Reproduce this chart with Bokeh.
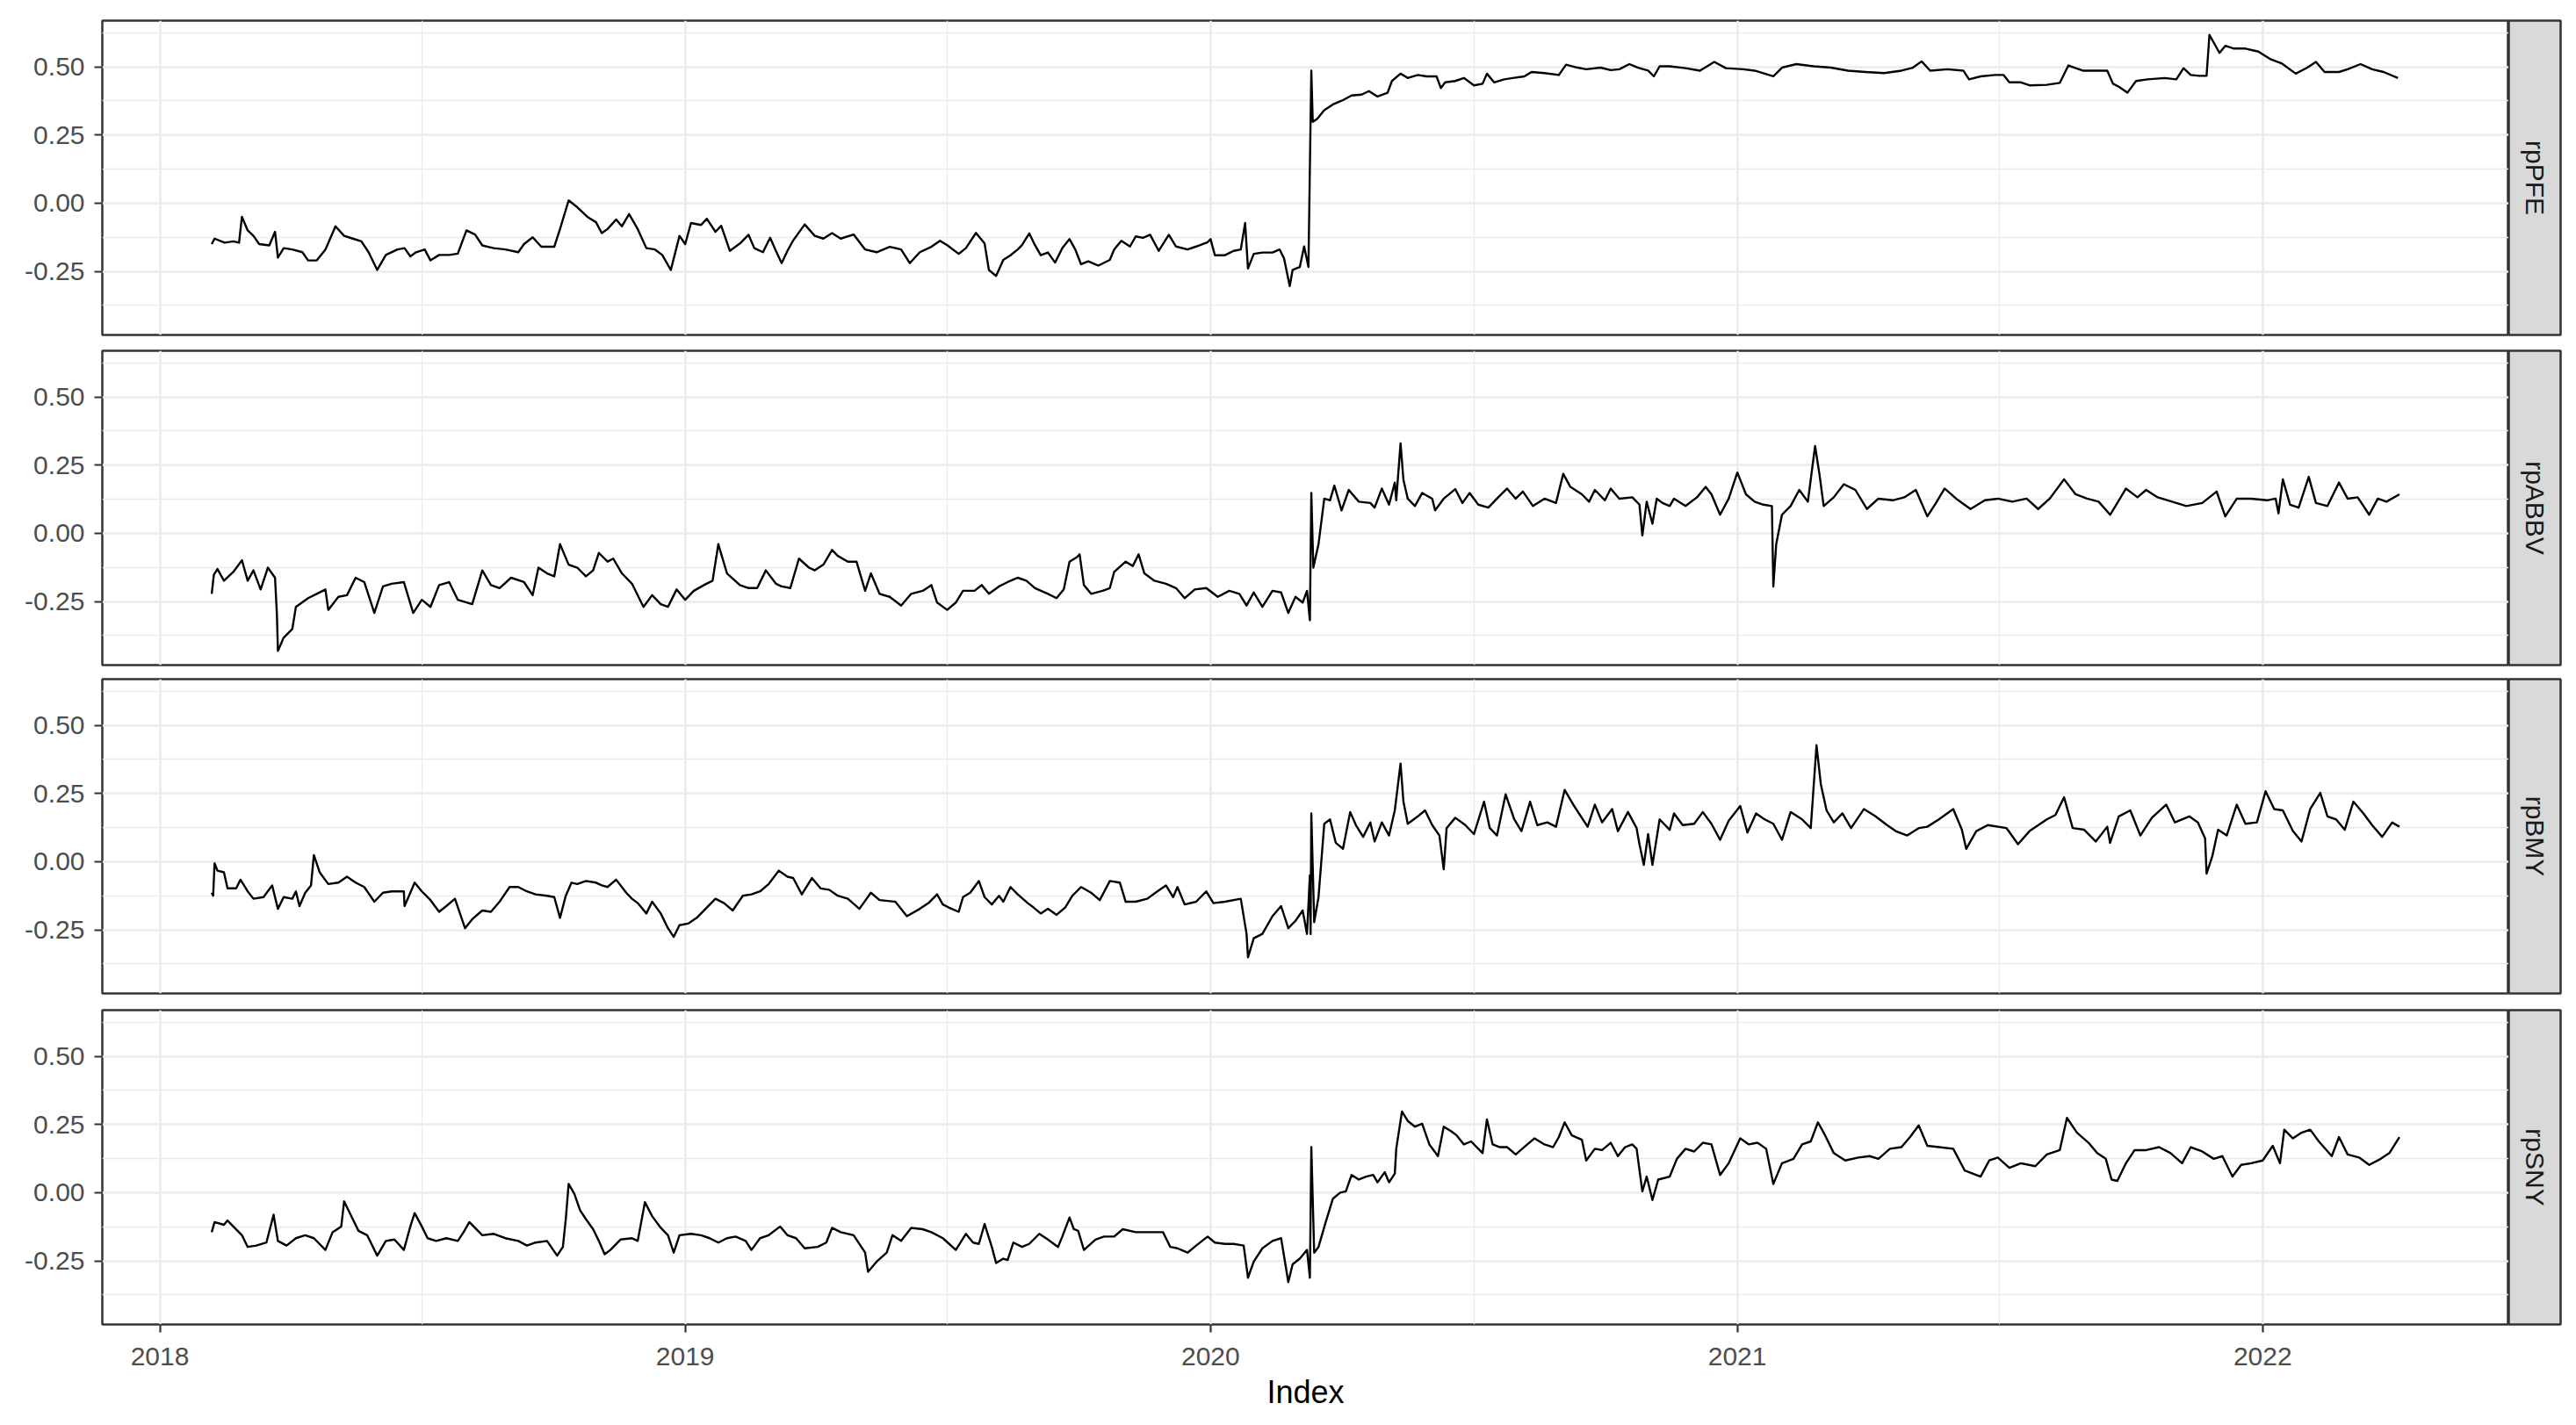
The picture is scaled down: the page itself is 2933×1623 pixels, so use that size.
import math
import pandas as pd
from bokeh.plotting import figure
from bokeh.layouts import column, row
from bokeh.models import (ColumnDataSource, Range1d, FixedTicker,
                          DatetimeTickFormatter, NumeralTickFormatter)
from bokeh.core.properties import value
from bokeh.embed import file_html
from bokeh.resources import INLINE

# ---------------- data ----------------
ORIGIN = "2018-01-01"          # day 0 of the day offsets below
series_names = ["rpPFE", "rpABBV", "rpBMY", "rpSNY"]
year_ticks = [2018, 2019, 2020, 2021, 2022]
y_tick_values = [-0.25, 0.0, 0.25, 0.5]
y_minor_values = [-0.375, -0.125, 0.125, 0.375, 0.625]

pfe_days = [36, 38, 45, 51, 55, 57, 61, 65, 69, 76, 80, 82, 86, 92, 99, 103, 109, 115, 122, 128,
            134, 140, 145, 151, 157, 165, 170, 174, 178, 184, 188, 194, 201, 207, 213, 219, 224, 228,
            232, 240, 249, 253, 259, 265, 274, 278, 284, 290, 297, 303, 307, 311, 317, 321, 326, 332,
            338, 344, 349, 355, 361, 365, 369, 376, 380, 386, 390, 396, 403, 409, 413, 419, 424, 428,
            432, 436, 440, 448, 455, 461, 467, 473, 482, 490, 498, 507, 515, 521, 528, 536,
            542, 547, 555, 560, 567, 573, 576, 581, 586, 591, 596, 599, 604, 608, 612, 617, 622, 627,
            632, 636, 640, 645, 652, 660, 663, 668, 674, 678, 683, 688, 694, 701, 706, 714, 720, 728,
            730, 733, 740, 746, 751, 754, 756, 760, 766, 773, 778, 781, 785, 787, 792, 795, 798, 799,
            800, 801, 804, 809, 815, 822, 828, 835, 840, 846, 853, 856, 862, 867, 874, 880, 887, 890,
            893, 900, 906, 913, 919, 922, 927, 934, 940, 948, 953, 962, 972, 977, 985, 991, 1001, 1008,
            1014, 1021, 1027, 1034, 1038, 1042, 1049,
            1060, 1070, 1080, 1088, 1100, 1108, 1121, 1127, 1137, 1149, 1161, 1173, 1185, 1198, 1210,
            1218, 1224, 1230, 1242, 1253, 1257, 1265, 1275, 1281, 1285, 1293, 1299, 1311, 1320, 1326,
            1336, 1353, 1357, 1361, 1367, 1373, 1381, 1393, 1401, 1406, 1411, 1417, 1422, 1424, 1431,
            1435, 1441, 1449, 1458, 1466, 1474, 1484, 1492, 1498, 1504, 1514, 1520, 1529, 1537, 1545, 1555]
pfe_vals = [-0.15, -0.13, -0.145, -0.14, -0.145, -0.05, -0.10, -0.12, -0.15, -0.155, -0.105, -0.20, -0.165,
            -0.17, -0.18, -0.21, -0.21, -0.17, -0.085, -0.12, -0.13, -0.14, -0.18, -0.245, -0.19, -0.17,
            -0.165, -0.195, -0.18, -0.17, -0.21, -0.19, -0.19, -0.185, -0.10, -0.115, -0.155, -0.16,
            -0.165, -0.17, -0.18, -0.15, -0.125, -0.16, -0.16, -0.095, 0.01, -0.015, -0.05, -0.07,
            -0.11, -0.095, -0.06, -0.085, -0.04, -0.095, -0.165, -0.17, -0.19, -0.245, -0.12, -0.15,
            -0.073, -0.08, -0.057, -0.105, -0.083, -0.175, -0.148, -0.116, -0.165, -0.18, -0.127,
            -0.175, -0.22, -0.175, -0.137, -0.078, -0.12, -0.13, -0.11, -0.13, -0.115, -0.17, -0.18,
            -0.16, -0.17, -0.22, -0.18, -0.16,
            -0.138, -0.154, -0.186, -0.165, -0.109, -0.148, -0.245, -0.267, -0.208, -0.191, -0.170,
            -0.154, -0.111, -0.154, -0.191, -0.181, -0.218, -0.165, -0.132, -0.170, -0.224, -0.213,
            -0.229, -0.208, -0.170, -0.138, -0.159, -0.122, -0.127, -0.116, -0.175, -0.116, -0.159,
            -0.170, -0.159, -0.143, -0.132, -0.191, -0.191, -0.175, -0.170, -0.073, -0.240, -0.186,
            -0.181, -0.181, -0.170, -0.202, -0.304, -0.245, -0.234, -0.159, -0.234, 0.13,
            0.486, 0.298, 0.309, 0.341, 0.362, 0.378, 0.395, 0.398, 0.411, 0.391, 0.405, 0.448, 0.475,
            0.459, 0.470, 0.465, 0.465, 0.422, 0.443, 0.448, 0.459, 0.432, 0.438, 0.475, 0.443, 0.454,
            0.459, 0.465, 0.481, 0.477, 0.470, 0.508, 0.497, 0.491, 0.497, 0.488, 0.491, 0.510, 0.497,
            0.486, 0.465, 0.502, 0.502,
            0.495, 0.486, 0.518, 0.495, 0.491, 0.486, 0.465, 0.497, 0.510, 0.502, 0.497, 0.486, 0.481,
            0.477, 0.486, 0.497, 0.520, 0.486, 0.491, 0.486, 0.454, 0.465, 0.470, 0.470, 0.443, 0.443,
            0.432, 0.434, 0.441, 0.505, 0.486, 0.486, 0.438, 0.427, 0.405, 0.448, 0.454, 0.459, 0.454,
            0.495, 0.470, 0.467, 0.467, 0.617, 0.551, 0.577, 0.567, 0.567, 0.556, 0.529, 0.513, 0.475,
            0.497, 0.518, 0.481, 0.481, 0.491, 0.510, 0.491, 0.481, 0.459]

abbv_days = [36, 37.5, 40, 44.5, 51, 57, 61, 65, 70, 75, 80, 81.3, 82, 86, 92, 94.5, 103, 109, 115, 117,
             124, 130, 136, 142, 149, 155, 161, 169.5, 176, 182, 188, 194, 201, 207, 217, 224, 230, 236,
             244, 253, 259, 263, 269, 274, 278, 284, 290, 296, 301, 305, 311, 315, 321, 328, 336, 342,
             348, 353, 359, 365, 371, 378, 384, 388, 394, 403, 409, 415, 421, 428, 432, 438, 444, 451,
             455, 461, 467, 471, 478, 484, 490, 494, 500, 507, 515, 522, 530, 536,
             540, 547, 553, 558, 566, 571, 576, 583, 589, 596, 602, 608, 617, 623, 628, 632, 637, 639,
             642, 647, 655, 660, 663, 671, 676, 680, 684, 691, 699, 706, 712, 719, 727, 735, 743, 750,
             755, 760, 766, 773, 779, 784, 789, 794, 797, 799, 800, 801.4, 805, 809, 813, 816, 821, 826,
             833, 841, 844, 849, 854, 858, 859, 862, 864, 867, 872, 877, 884, 886, 892, 900, 905, 910,
             916, 923, 929, 936, 942, 947, 954, 962, 970, 975, 980, 988, 993, 997, 1004, 1008, 1014,
             1023, 1028, 1030, 1033, 1037, 1040, 1044, 1049,
             1052, 1060, 1068, 1074, 1078, 1084, 1090, 1096, 1102, 1108, 1114, 1120, 1121, 1123, 1127,
             1133, 1139, 1145, 1150, 1153, 1156, 1163, 1170, 1178, 1186, 1194, 1204, 1212, 1220, 1228,
             1234, 1240, 1248, 1258, 1268, 1277, 1287, 1297, 1305, 1313, 1323, 1331, 1339, 1347, 1355,
             1360, 1366, 1374, 1380, 1388, 1398, 1408, 1419, 1429, 1435, 1443, 1453, 1464, 1470, 1472,
             1475, 1480, 1486, 1493, 1498, 1506, 1514, 1520, 1527, 1535, 1541, 1547, 1556]
abbv_vals = [-0.222, -0.152, -0.131, -0.174, -0.142, -0.099, -0.174, -0.136, -0.206, -0.126, -0.163,
             -0.297, -0.431, -0.383, -0.351, -0.270, -0.238, -0.222, -0.206, -0.281, -0.233, -0.227,
             -0.163, -0.179, -0.292, -0.195, -0.185, -0.179, -0.292, -0.244, -0.270, -0.190, -0.179,
             -0.244, -0.260, -0.136, -0.190, -0.201, -0.163, -0.179, -0.227, -0.126, -0.147, -0.158,
             -0.040, -0.115, -0.126, -0.158, -0.136, -0.072, -0.104, -0.093, -0.147, -0.185, -0.270,
             -0.227, -0.260, -0.270, -0.206, -0.244, -0.211, -0.190, -0.174, -0.040, -0.147, -0.190,
             -0.201, -0.201, -0.136, -0.185, -0.195, -0.201, -0.093, -0.126, -0.136, -0.115, -0.061,
             -0.083, -0.104, -0.104, -0.211, -0.147, -0.222, -0.233, -0.265, -0.222, -0.211, -0.190,
             -0.254, -0.281, -0.254, -0.211, -0.211, -0.190, -0.222, -0.195, -0.179, -0.163, -0.174,
             -0.201, -0.222, -0.238, -0.206, -0.104, -0.088, -0.077, -0.190, -0.222, -0.211, -0.201,
             -0.142, -0.104, -0.120, -0.077, -0.147, -0.174, -0.185, -0.201, -0.238, -0.206, -0.201,
             -0.233, -0.211, -0.222, -0.265, -0.217, -0.270, -0.211, -0.217, -0.292, -0.233, -0.254,
             -0.211, -0.319, 0.148, -0.126, -0.040, 0.127, 0.121, 0.175, 0.084, 0.159, 0.116, 0.111,
             0.094, 0.164, 0.105, 0.186, 0.121, 0.330, 0.196, 0.127, 0.100, 0.148, 0.127, 0.084, 0.127,
             0.162, 0.111, 0.148, 0.105, 0.094, 0.127, 0.164, 0.127, 0.153, 0.100, 0.127, 0.111, 0.218,
             0.170, 0.143, 0.116, 0.159, 0.121, 0.164, 0.127, 0.132, 0.105, -0.008, 0.116, 0.035, 0.127,
             0.111, 0.100,
             0.127, 0.100, 0.132, 0.170, 0.143, 0.068, 0.127, 0.223, 0.143, 0.116, 0.105, 0.100, -0.195,
             -0.040, 0.068, 0.100, 0.159, 0.116, 0.320, 0.218, 0.100, 0.132, 0.180, 0.159, 0.089, 0.127,
             0.121, 0.132, 0.159, 0.062, 0.111, 0.164, 0.127, 0.089, 0.121, 0.127, 0.116, 0.127, 0.089,
             0.127, 0.198, 0.143, 0.127, 0.116, 0.068, 0.111, 0.164, 0.132, 0.159, 0.132, 0.116, 0.100,
             0.111, 0.153, 0.062, 0.127, 0.127, 0.121, 0.127, 0.073, 0.198, 0.105, 0.094, 0.207, 0.111,
             0.100, 0.186, 0.127, 0.132, 0.068, 0.127, 0.116, 0.143]

bmy_days = [36, 37, 38, 40, 44.5, 47, 53, 56, 61, 65, 72, 78, 82, 86, 92, 94.5, 97, 101, 105, 107, 111,
            117, 124, 130, 136, 142, 149, 155, 161, 169.5, 170, 177, 182, 188, 194, 199, 205, 212, 217,
            224, 230, 236, 243, 249, 255, 261, 269, 274, 278, 282, 286, 290, 296, 303, 307, 311, 317,
            324, 328, 332, 338, 342, 348, 353, 357, 361, 367, 373, 380, 386, 392, 398, 405, 411, 417,
            423, 430, 436, 440, 446, 453, 459, 465, 471, 478, 486, 494, 500, 511, 519, 528, 534, 540,
            544, 548, 555, 558, 563, 569, 573, 578, 583, 586, 591, 596, 603, 607, 612, 617, 623, 629,
            634, 640, 647, 653, 660, 667, 671, 678, 686, 693, 699, 704, 707, 712, 720, 727, 732, 740,
            751, 755, 756, 760, 766, 773, 779, 784, 789, 794, 797, 799, 799.5, 800, 802, 805, 809, 813,
            817, 822, 827, 831, 836, 841, 844, 849, 854, 858, 862, 864, 867, 874, 879, 884, 889, 892,
            894, 900, 907, 913, 920, 924, 929, 935, 941, 946, 952, 957, 964, 970, 976, 982, 992, 997,
            1002, 1009, 1013, 1020, 1026, 1028, 1031, 1034, 1037, 1042, 1049,
            1052, 1058, 1066, 1072, 1078, 1084, 1090, 1098, 1103, 1109, 1115, 1121, 1127, 1133, 1141,
            1147, 1151, 1154, 1158, 1163, 1169, 1175, 1184, 1192, 1200, 1206, 1214, 1222, 1228, 1236,
            1246, 1252, 1255, 1262, 1270, 1283, 1291, 1299, 1311, 1317, 1323, 1329, 1337, 1345, 1353,
            1355, 1361, 1369, 1376, 1384, 1394, 1400, 1410, 1416, 1421, 1422, 1426, 1430, 1436, 1443,
            1449, 1457, 1463, 1469, 1475, 1482, 1488, 1494, 1501, 1506, 1512, 1518, 1524, 1531, 1537,
            1544, 1551, 1556]
bmy_vals = [-0.114, -0.125, -0.006, -0.033, -0.039, -0.098, -0.098, -0.066, -0.109, -0.136, -0.130,
            -0.087, -0.173, -0.130, -0.136, -0.109, -0.163, -0.114, -0.087, 0.024, -0.039, -0.082,
            -0.077, -0.055, -0.077, -0.093, -0.147, -0.114, -0.109, -0.109, -0.163, -0.077, -0.109,
            -0.141, -0.184, -0.163, -0.136, -0.244, -0.211, -0.179, -0.184, -0.147, -0.093, -0.093,
            -0.109, -0.120, -0.125, -0.130, -0.206, -0.125, -0.077, -0.082, -0.071, -0.077, -0.087,
            -0.093, -0.066, -0.114, -0.136, -0.152, -0.190, -0.147, -0.190, -0.244, -0.276, -0.233,
            -0.227, -0.206, -0.168, -0.136, -0.152, -0.179, -0.125, -0.120, -0.109, -0.082, -0.033,
            -0.055, -0.060, -0.120, -0.060, -0.098, -0.103, -0.125, -0.136, -0.173, -0.114, -0.141,
            -0.147, -0.200, -0.173, -0.152, -0.120,
            -0.157, -0.168, -0.184, -0.130, -0.114, -0.071, -0.130, -0.157, -0.125, -0.147, -0.093,
            -0.120, -0.152, -0.168, -0.190, -0.173, -0.195, -0.168, -0.125, -0.093, -0.114, -0.141,
            -0.071, -0.077, -0.147, -0.147, -0.136, -0.109, -0.087, -0.130, -0.093, -0.157, -0.147,
            -0.109, -0.152, -0.147, -0.136, -0.265, -0.351, -0.281, -0.265, -0.200, -0.163, -0.244,
            -0.217, -0.179, -0.265, -0.050, -0.265, 0.177, -0.222, -0.130, 0.139, 0.155, 0.069, 0.047,
            0.182, 0.134, 0.091, 0.144, 0.074, 0.144, 0.096, 0.188, 0.360, 0.220, 0.139, 0.166, 0.188,
            0.134, 0.096, -0.028, 0.123, 0.161, 0.134, 0.101, 0.220, 0.123, 0.096, 0.247, 0.155, 0.112,
            0.220, 0.134, 0.144, 0.128, 0.263, 0.209, 0.128, 0.209, 0.144, 0.193, 0.112, 0.182, 0.123,
            0.064, -0.012, 0.101, -0.012, 0.155, 0.117,
            0.177, 0.134, 0.139, 0.182, 0.139, 0.080, 0.150, 0.204, 0.107, 0.177, 0.155, 0.139, 0.080,
            0.182, 0.155, 0.123, 0.427, 0.284, 0.188, 0.144, 0.177, 0.123, 0.193, 0.166, 0.134, 0.112,
            0.096, 0.123, 0.128, 0.155, 0.193, 0.117, 0.047, 0.112, 0.134, 0.123, 0.064, 0.112, 0.155,
            0.171, 0.236, 0.123, 0.117, 0.074, 0.128, 0.069, 0.166, 0.188, 0.096, 0.161, 0.209, 0.144,
            0.166, 0.144, 0.085, -0.044, 0.020, 0.117, 0.096, 0.209, 0.139, 0.144, 0.258, 0.193, 0.188,
            0.112, 0.074, 0.193, 0.252, 0.166, 0.155, 0.117, 0.220, 0.177, 0.134, 0.091, 0.144, 0.128]

sny_days = [36, 38, 44.5, 47, 51, 57, 61, 67, 74, 79, 82, 88, 94.5, 101, 107, 115, 120, 126, 128, 134,
            138, 144, 151, 157, 163, 169.5, 174, 177, 182, 186, 192, 199, 207, 211, 215, 224, 232, 240,
            249, 255, 261, 269, 276, 280, 282, 284, 288, 292, 296, 301, 305, 309, 313, 320, 328, 332,
            337, 342, 348, 353, 357, 361, 369, 376, 382, 388, 394, 400, 407, 411, 417, 423, 431, 436,
            442, 448, 457, 463, 467, 473, 482, 490, 492, 498, 505, 509, 515, 522, 530, 536,
            544, 553, 560, 565, 569, 573, 578, 581, 586, 589, 593, 599, 604, 611, 617, 624, 627, 632,
            635, 638, 642, 650, 656, 663, 669, 678, 684, 691, 697, 702, 707, 714, 720, 728, 733, 740,
            746, 753, 756, 760, 766, 773, 779, 782, 784, 787, 792, 797, 799, 799.5, 800, 802, 805, 810,
            815, 820, 824, 828, 833, 838, 843, 846, 851, 854, 858, 859, 863, 867, 872, 877, 882, 888,
            892, 897, 901, 906, 911, 916, 919, 922, 926, 931, 936, 942, 949, 955, 962, 968, 972, 976,
            981, 988, 991, 997, 1002, 1008, 1013, 1018, 1023, 1026, 1030, 1033, 1037, 1041, 1049,
            1054, 1060, 1066, 1072, 1078, 1084, 1090, 1098, 1104, 1110, 1116, 1121, 1127, 1135, 1141,
            1147, 1152, 1157, 1163, 1171, 1180, 1188, 1194, 1202, 1210, 1216, 1222, 1228, 1236, 1246,
            1254, 1265, 1271, 1277, 1285, 1293, 1303, 1311, 1320, 1325, 1332, 1340, 1346, 1352, 1356,
            1360, 1366, 1372, 1380, 1389, 1397, 1405, 1411, 1419, 1427, 1433, 1440, 1446, 1453, 1461,
            1468, 1473, 1476, 1482, 1488, 1494, 1500, 1509, 1514, 1520, 1528, 1535, 1543, 1549, 1556]
sny_vals = [-0.145, -0.108, -0.118, -0.102, -0.124, -0.156, -0.199, -0.194, -0.183, -0.081, -0.177,
            -0.194, -0.167, -0.156, -0.167, -0.210, -0.145, -0.124, -0.032, -0.097, -0.140, -0.156,
            -0.231, -0.177, -0.172, -0.210, -0.124, -0.075, -0.124, -0.167, -0.177, -0.167, -0.177,
            -0.145, -0.108, -0.156, -0.151, -0.167, -0.177, -0.194, -0.183, -0.177, -0.231, -0.199,
            -0.097, 0.032, -0.005, -0.065, -0.097, -0.134, -0.177, -0.226, -0.210, -0.172, -0.167,
            -0.177, -0.035, -0.086, -0.129, -0.156, -0.220, -0.156, -0.151, -0.156, -0.167, -0.183,
            -0.167, -0.161, -0.177, -0.210, -0.167, -0.156, -0.124, -0.156, -0.167, -0.204, -0.199,
            -0.183, -0.129, -0.145, -0.156, -0.220, -0.290, -0.253, -0.220, -0.156, -0.177, -0.129,
            -0.134, -0.145,
            -0.167, -0.210, -0.151, -0.183, -0.188, -0.115, -0.199, -0.258, -0.242, -0.247, -0.183,
            -0.199, -0.188, -0.151, -0.172, -0.199, -0.161, -0.091, -0.134, -0.140, -0.210, -0.172,
            -0.161, -0.161, -0.134, -0.145, -0.145, -0.145, -0.145, -0.199, -0.204, -0.220, -0.194,
            -0.161, -0.183, -0.188, -0.188, -0.194, -0.312, -0.253, -0.204, -0.177, -0.167, -0.263,
            -0.328, -0.263, -0.242, -0.210, -0.312, -0.075, 0.167, -0.220, -0.199, -0.108, -0.022,
            0.000, 0.005, 0.065, 0.048, 0.059, 0.065, 0.038, 0.075, 0.038, 0.070, 0.161, 0.298, 0.263,
            0.242, 0.253, 0.177, 0.134, 0.242, 0.226, 0.210, 0.177, 0.188, 0.161, 0.145, 0.269, 0.177,
            0.167, 0.167, 0.140, 0.172, 0.199, 0.177, 0.167, 0.204, 0.258, 0.210, 0.194, 0.118, 0.161,
            0.156, 0.183, 0.134, 0.167, 0.177, 0.161, 0.005, 0.059, -0.027, 0.048, 0.059,
            0.124, 0.161, 0.151, 0.183, 0.177, 0.065, 0.108, 0.199, 0.177, 0.183, 0.161, 0.032, 0.108,
            0.124, 0.177, 0.188, 0.258, 0.210, 0.145, 0.118, 0.129, 0.134, 0.124, 0.161, 0.167, 0.204,
            0.247, 0.172, 0.167, 0.161, 0.081, 0.059, 0.118, 0.129, 0.091, 0.108, 0.097, 0.140, 0.156,
            0.274, 0.220, 0.183, 0.145, 0.124, 0.048, 0.043, 0.108, 0.156, 0.156, 0.167, 0.145, 0.108,
            0.167, 0.151, 0.124, 0.134, 0.059, 0.102, 0.108, 0.118, 0.172, 0.108, 0.231, 0.199, 0.220,
            0.231, 0.188, 0.134, 0.204, 0.140, 0.129, 0.102, 0.124, 0.145, 0.204]

all_days = [pfe_days, abbv_days, bmy_days, sny_days]
all_vals = [pfe_vals, abbv_vals, bmy_vals, sny_vals]

# ---------------- scales (ggplot-like 5 % expansion) ----------------
origin = pd.Timestamp(ORIGIN)
d_min = min(min(d) for d in all_days)
d_max = max(max(d) for d in all_days)
d_pad = 0.05 * (d_max - d_min)
x_start = origin + pd.to_timedelta(d_min - d_pad, unit="D")
x_end = origin + pd.to_timedelta(d_max + d_pad, unit="D")
v_min = min(min(v) for v in all_vals)
v_max = max(max(v) for v in all_vals)
v_pad = 0.05 * (v_max - v_min)


def ms(ts):
    return (pd.Timestamp(ts) - pd.Timestamp("1970-01-01")) // pd.Timedelta("1ms")


x_major = [ms(f"{y}-01-01") for y in year_ticks]
x_minor = [ms(f"{y}-07-02") for y in range(year_ticks[0] - 1, year_ticks[-1] + 1)]

FONT = "Liberation Sans"
GRID = "#EBEBEB"
DARK = "#333333"
FRAME_W = 2740
FRAME_H = 358
LEFT = 116
STRIP_W = 59


def make_panel(name, days, vals, top, bottom, last):
    h = top + FRAME_H + bottom
    p = figure(width=LEFT + FRAME_W, height=h, output_backend="svg", toolbar_location=None,
               x_axis_type="datetime", x_axis_location="below" if last else None,
               x_range=Range1d(x_start, x_end),
               y_range=Range1d(v_min - v_pad, v_max + v_pad),
               min_border_left=LEFT, min_border_right=0,
               min_border_top=top, min_border_bottom=bottom)
    p.background_fill_color = "white"
    p.border_fill_color = "white"
    p.outline_line_color = DARK
    p.outline_line_width = 2.5

    xt = FixedTicker(ticks=x_major, minor_ticks=x_minor)
    yt = FixedTicker(ticks=y_tick_values, minor_ticks=y_minor_values)
    for g, t in ((p.xgrid, xt), (p.ygrid, yt)):
        g.ticker = t
        g.grid_line_color = GRID
        g.grid_line_width = 2.6
        g.minor_grid_line_color = GRID
        g.minor_grid_line_width = 1.3

    p.yaxis.ticker = yt
    p.yaxis.formatter = NumeralTickFormatter(format="0.00")
    axes = list(p.yaxis) + (list(p.xaxis) if last else [])
    for ax in axes:
        ax.axis_line_color = None
        ax.major_tick_line_color = DARK
        ax.major_tick_line_width = 2.2
        ax.major_tick_out = 9
        ax.major_tick_in = 0
        ax.minor_tick_line_color = None
        ax.major_label_text_font = FONT
        ax.major_label_text_font_size = "30px"
        ax.major_label_text_color = "#4D4D4D"
    p.yaxis.major_label_standoff = 11
    if last:
        p.xaxis.ticker = xt
        p.xaxis.formatter = DatetimeTickFormatter(years="%Y", months="%Y", days="%Y")
        p.xaxis.major_label_standoff = 17
        p.xaxis.axis_label = "Index"
        p.xaxis.axis_label_text_font = FONT
        p.xaxis.axis_label_text_font_size = "36px"
        p.xaxis.axis_label_text_font_style = "normal"
        p.xaxis.axis_label_text_color = "black"
        p.xaxis.axis_label_standoff = 7

    dates = origin + pd.to_timedelta(pd.Series(days, dtype=float), unit="D")
    src = ColumnDataSource(dict(date=dates, v=vals))
    p.line("date", "v", source=src, line_color="black", line_width=2.4, line_join="round")

    s = figure(width=STRIP_W + 2, height=h, output_backend="svg", toolbar_location=None,
               x_range=Range1d(0, 1), y_range=Range1d(0, 1),
               x_axis_location=None, y_axis_location=None,
               min_border_left=0, min_border_right=2,
               min_border_top=top, min_border_bottom=bottom)
    s.grid.visible = False
    s.background_fill_color = "#D9D9D9"
    s.border_fill_color = "white"
    s.outline_line_color = DARK
    s.outline_line_width = 2.5
    s.text(x=[0.5], y=[0.5], text=[name], angle=-math.pi / 2,
           text_align="center", text_baseline="middle",
           text_font=value(FONT), text_font_size="30px", text_color="#1A1A1A")
    return row(p, s)


tops = [23, 3, 3, 3]
bottoms = [15, 13, 16, 108]
rows = [make_panel(series_names[i], all_days[i], all_vals[i], tops[i], bottoms[i], i == 3)
        for i in range(4)]
layout = column(*rows)

open("out.html", "w").write(file_html(layout, INLINE))
